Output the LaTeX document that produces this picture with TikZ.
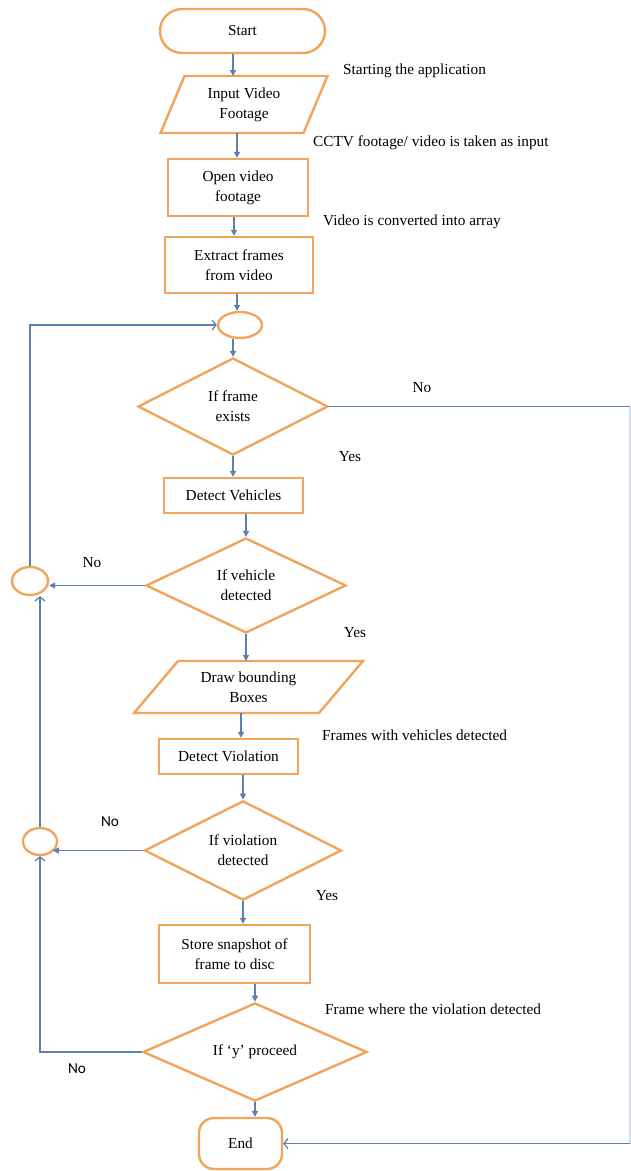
\documentclass[tikz,border=0pt]{standalone}
\usepackage{fontspec}
\setmainfont{Liberation Serif}
\newfontfamily\carl{Carlito}
\usetikzlibrary{shapes.geometric,arrows.meta,calc}
\definecolor{boxor}{HTML}{F0A45C}
\definecolor{lnblue}{HTML}{5B80AE}
\begin{document}
\begin{tikzpicture}[x=1pt,y=-1pt,
  font=\fontsize{15.3}{20}\selectfont,
  box/.style={draw=boxor, line width=2.4pt, rectangle, align=center, inner sep=0pt},
  term/.style={box, rounded corners=22pt},
  dec/.style={draw=boxor, line width=2.4pt, diamond, align=center, inner sep=0pt},
  jn/.style={draw=boxor, line width=2.4pt, ellipse, inner sep=0pt},
  io/.style={rectangle, align=center, inner sep=0pt, outer sep=0pt},
  ioline/.style={draw=boxor, line width=2.4pt, line join=miter},
  flow/.style={draw=lnblue, line width=1.2pt, -{Triangle[length=6pt,width=6pt]}},
  back/.style={draw=lnblue, line width=1.2pt, -{Straight Barb[length=4pt,width=10pt]}},
  note/.style={anchor=west, inner sep=0pt},
  lab/.style={inner sep=0pt}]
\useasboundingbox (0,0) rectangle (630,1171);
\fill[white] (0,0) rectangle (630,1171);

% nodes
\node[term, minimum width=165pt, minimum height=44pt] (start) at (242.5,31) {Start};
\node[io, minimum width=143pt, minimum height=57pt] (input) at (244,104.5) {Input Video\\Footage};
\draw[ioline] ([xshift=12pt]input.north west) -- ([xshift=12pt]input.north east) -- ([xshift=-12pt]input.south east) -- ([xshift=-12pt]input.south west) -- cycle;
\node[box, minimum width=140pt, minimum height=57pt] (open) at (238,187.5) {Open video\\footage};
\node[box, minimum width=148pt, minimum height=56pt] (extract) at (239,265) {Extract frames\\from video};
\node[jn, minimum width=44pt, minimum height=26pt] (c1) at (240,325) {};
\node[dec, minimum width=190pt, minimum height=97pt] (d1) at (233,406.5) {If frame\\exists};
\node[box, minimum width=139pt, minimum height=35pt] (dv) at (233.5,495.5) {Detect Vehicles};
\node[dec, minimum width=200pt, minimum height=95pt] (d2) at (246,585.5) {If vehicle\\detected};
\node[jn, minimum width=36pt, minimum height=28pt] (c2) at (30,581) {};
\node[io, minimum width=185pt, minimum height=52pt] (draw) at (248.5,687) {Draw bounding\\Boxes};
\draw[ioline] ([xshift=22pt]draw.north west) -- ([xshift=22pt]draw.north east) -- ([xshift=-22pt]draw.south east) -- ([xshift=-22pt]draw.south west) -- cycle;
\node[box, minimum width=139pt, minimum height=35pt] (dviol) at (228.5,756.5) {Detect Violation};
\node[dec, minimum width=197pt, minimum height=97pt] (d3) at (243,850.5) {If violation\\detected};
\node[jn, minimum width=34pt, minimum height=27pt] (c3) at (40,841.5) {};
\node[box, minimum width=151pt, minimum height=58pt] (store) at (234.5,954) {Store snapshot of\\frame to disc};
\node[dec, minimum width=224pt, minimum height=86pt] (d4) at (255,1052) {If ‘y’ proceed};
\node[box, rounded corners=15pt, minimum width=83pt, minimum height=51pt] (endn) at (240.5,1143.5) {End};
\coordinate (rx) at (630,0);

% main flow
\draw[flow] ([xshift=-9.5pt]start.south) -- ([xshift=-9.5pt]start.south |- input.north);
\draw[flow] ([xshift=-7pt]input.south) -- ([xshift=-7pt]input.south |- open.north);
\draw[flow] ([xshift=-4pt]open.south) -- ([xshift=-4pt]open.south |- extract.north);
\draw[flow] ([xshift=-2pt]extract.south) -- ([xshift=-2pt]extract.south |- c1.north);
\draw[flow] (c1.south -| d1.north) -- (d1.north);
\draw[flow] (d1.south) -- (d1.south |- dv.north);
\draw[flow] (dv.south -| d2.north) -- (d2.north);
\draw[flow] (d2.south) -- (d2.south |- draw.north);
\draw[flow] ([xshift=-7.5pt]draw.south) -- ([xshift=-7.5pt]draw.south |- dviol.north);
\draw[flow] (dviol.south -| d3.north) -- (d3.north);
\draw[flow] (d3.south) -- (d3.south |- store.north);
\draw[flow] (store.south -| d4.north) -- (d4.north);
\draw[flow] (d4.south) -- (d4.south |- endn.north);

% side branches
\draw[flow] (d2.west) -- (d2.west -| c2.east);
\draw[flow] (d3.west) -- (d3.west -| c3.south east);
\draw[back] (c2.north) |- (c1.west);
\draw[back] (c3.north) -- (c3.north |- c2.south);
\draw[back] (d4.west) -| (c3.south);
\draw[draw=lnblue, line width=1.2pt] (d1.east) -- (d1.east -| rx);
\draw[draw=lnblue!25, line width=1.2pt] (d1.east -| rx) -- (endn.east -| rx);
\draw[back] (endn.east -| rx) -- (endn.east);

% labels
\node[note] (t1) at (343,71) {Starting the application};
\node[note] (t2) at (313,143) {CCTV footage/ video is taken as input};
\node[note] (t3) at (323,222) {Video is converted into array};
\node[lab] (no1) at (422,388) {No};
\node[lab] (yes1) at (350,457) {Yes};
\node[lab] (no2) at (92,563) {No};
\node[lab] (yes2) at (355,633) {Yes};
\node[note] (t4) at (322,735) {Frames with vehicles detected};
\node[lab, font=\carl\fontsize{15.3}{20}\selectfont] (no3) at (110,822) {No};
\node[lab] (yes3) at (327,896) {Yes};
\node[note] (t5) at (325,1009) {Frame where the violation detected};
\node[lab, font=\carl\fontsize{15.3}{20}\selectfont] (no4) at (77,1069) {No};
\end{tikzpicture}
\end{document}
